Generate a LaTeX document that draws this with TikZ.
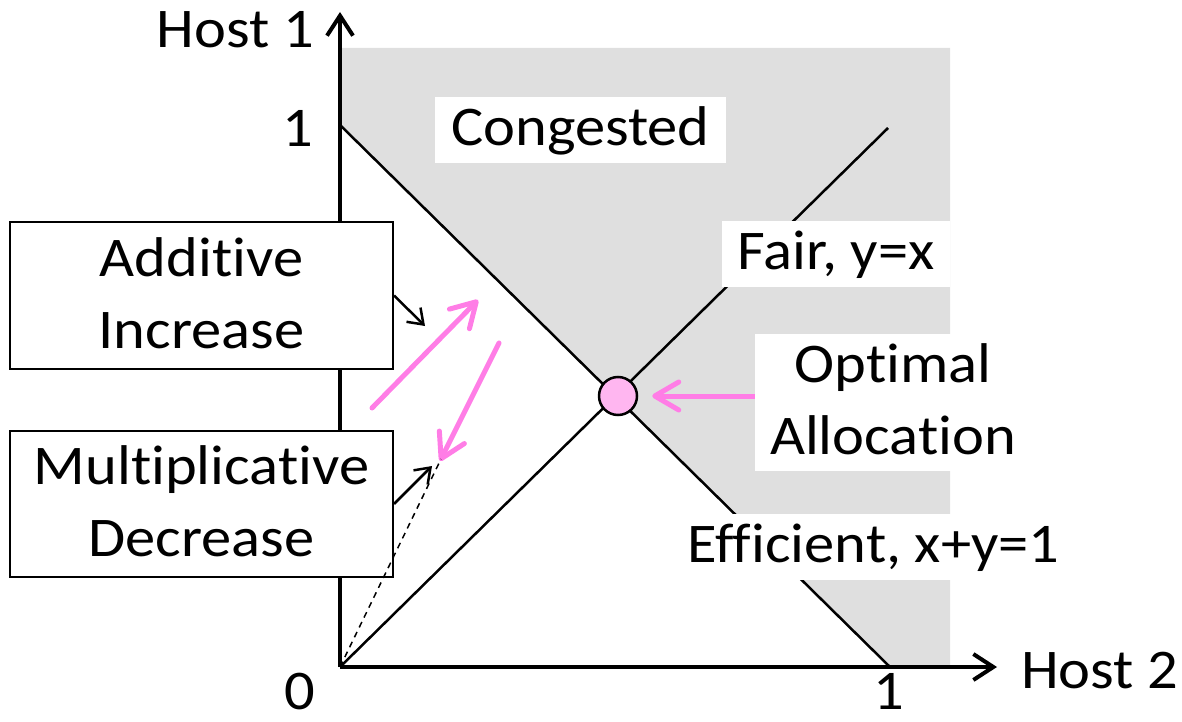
\documentclass[tikz,border=0pt]{standalone}
\usepackage{fontspec}
\setmainfont{Carlito}[FakeStretch=1.08,Ligatures=NoCommon]
\usetikzlibrary{arrows.meta}
\definecolor{cgray}{RGB}{223,223,223}
\definecolor{cpink}{RGB}{255,125,230}
\definecolor{cpinkfill}{RGB}{255,182,240}
\newcommand\Lst{\rule[-8pt]{0pt}{49pt}}
\begin{document}
\begin{tikzpicture}[x=1pt,y=-1pt,
  every node/.style={font=\fontsize{56}{72}\selectfont, inner sep=0pt},
  lbl/.style={fill=white, inner xsep=0pt, inner ysep=8pt, align=center},
  bigbox/.style={draw=black, line width=2pt, fill=white, minimum width=383pt, minimum height=147pt, align=center},
  axis/.style={line width=4pt, -{Straight Barb[length=20pt,width=26pt]}},
  thinline/.style={line width=2.5pt},
  pinkarrow/.style={draw=cpink, line width=5pt, line cap=round, -{Straight Barb[length=24pt,width=28pt,round]}},
  blackarrow/.style={line width=2.5pt, -{Straight Barb[length=14pt,width=20pt]}},
  dashline/.style={line width=1.5pt, dash pattern=on 6pt off 5pt},
]
\useasboundingbox (0,0) rectangle (1182,722);
% coordinates
\coordinate (O) at (340,667);
\coordinate (ytop) at (340,12);
\coordinate (xend) at (997,667);
\coordinate (E1) at (340,125);
\coordinate (E2) at (890,667);
\coordinate (F2) at (888,128);
% congested region
\fill[cgray] (E1) -- (340,48) -- (950,48) -- (950,667) -- (E2) -- cycle;
% axes
\draw[axis] (O) -- (ytop);
\draw[axis] (O) -- (xend);
% efficient and fair lines
\draw[thinline] (E1) -- (E2);
\draw[thinline] (O) -- (F2);
% pink horizontal arrow
\coordinate (pa) at (758,396);
\node[circle, draw=black, line width=2.5pt, fill=cpinkfill, minimum size=38pt] (c) at (618,396) {};
\draw[pinkarrow, line cap=butt, shorten >=14pt] (pa) -- (c.east);
% labels in white boxes
\node[lbl, minimum width=291pt] (cong) at (580.5,130) {\Lst Congested};
\node[lbl, minimum width=228pt] (fair) at (836,254) {\Lst Fair, y=x};
\node[lbl, minimum width=276pt] (opt) at (893,402) {\Lst Optimal\\\Lst Allocation};
\node[lbl, minimum width=403pt] (eff) at (873.5,547) {\Lst Efficient, x+y=1};
% axis labels
\node[anchor=base east] (h1) at (314,48) {Host 1};
\node[anchor=base east] (t1y) at (313,147) {1};
\node[anchor=base] (t0) at (300,709) {0};
\node[anchor=base] (t1x) at (889,709) {1};
\node[anchor=base west] (h2) at (1021,688) {Host 2};
% AIMD boxes
\node[bigbox] (ai) at (201.5,295.5) {\Lst Additive\\\Lst Increase};
\node[bigbox, minimum height=146pt] (md) at (201.5,504) {\Lst Multiplicative\\\Lst Decrease};
% pink AIMD arrows
\coordinate (p1s) at (372,408);
\coordinate (p1e) at (478,300);
\coordinate (p2s) at (499,343);
\coordinate (p2e) at (440,461);
\draw[pinkarrow] (p1s) -- (p1e);
\draw[pinkarrow] (p2s) -- (p2e);
% black pointers
\coordinate (a1) at (425,326);
\coordinate (a2) at (432,466);
\coordinate (d1) at (441,459);
\draw[blackarrow] (ai.east) -- (a1);
\draw[blackarrow] (md.east) -- (a2);
\draw[dashline] (O) -- (d1);
\end{tikzpicture}
\end{document}
